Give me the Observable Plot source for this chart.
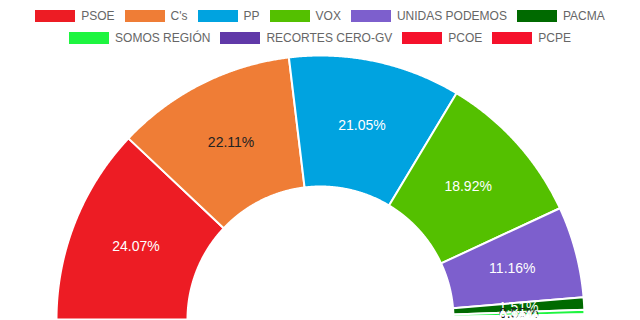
<!DOCTYPE html>
<html>
<head>
<meta charset="utf-8">
<script src="https://cdn.jsdelivr.net/npm/d3@7"></script>
<script src="https://cdn.jsdelivr.net/npm/@observablehq/plot@0.6"></script>
<style>
html, body { margin: 0; padding: 0; overflow: hidden; background: #fff; width: 640px; height: 320px; }
#legend { box-sizing: border-box; height: 50px; padding-top: 10px; font: 12px "Liberation Sans", Arial, sans-serif; color: #666; }
.row { display: flex; justify-content: center; height: 12px; margin-bottom: 10px; }
.item { display: flex; align-items: center; margin: 0 5px; white-space: nowrap; line-height: 12px; }
.sw { width: 40px; height: 12px; margin-right: 6px; flex: none; }
#chart svg { display: block; overflow: visible; }
</style>
</head>
<body>
<div id="legend"></div>
<div id="chart"></div>
<script>
// ---- data ----
const parties = ["PSOE", "C's", "PP", "VOX", "UNIDAS PODEMOS", "PACMA", "SOMOS REGIÓN", "RECORTES CERO-GV", "PCOE", "PCPE"];
const shares = [24.07, 22.11, 21.05, 18.92, 11.16, 1.51, 0.55, 0.25, 0.20, 0.18];
const palette = ["#ed1c24", "#ef7d36", "#00a3e0", "#54c000", "#7d5fcd", "#006a00", "#1ef540", "#6039a8", "#f5112b", "#f5112b"];
const darkLabelParties = ["C's", "SOMOS REGIÓN"];
const legendRows = [parties.slice(0, 6), parties.slice(6)];

// ---- legend ----
const legend = d3.select("#legend");
legendRows.forEach(row => {
  const r = legend.append("div").attr("class", "row");
  row.forEach(p => {
    const it = r.append("div").attr("class", "item");
    it.append("div").attr("class", "sw").style("background", palette[parties.indexOf(p)]);
    it.append("span").text(p);
  });
});

// ---- geometry (unit outer radius) ----
const innerFrac = 133 / 264;
const total = d3.sum(shares);
let cum = 0;
const slices = parties.map((p, i) => {
  const a0 = cum / total * Math.PI;
  cum += shares[i];
  const a1 = cum / total * Math.PI;
  return {party: p, share: shares[i], a0, a1, mid: (a0 + a1) / 2};
});
const pt = (a, r) => [-r * Math.cos(a), -r * Math.sin(a)];
function ring(s) {
  const n = Math.max(2, Math.ceil((s.a1 - s.a0) / (Math.PI / 720)));
  const angles = d3.range(n + 1).map(k => s.a0 + (s.a1 - s.a0) * k / n);
  const outer = angles.map(a => pt(a, 1));
  const inner = angles.slice().reverse().map(a => pt(a, innerFrac));
  return [...outer, ...inner, outer[0]];
}
const features = slices.map(s => ({type: "Feature", properties: s, geometry: {type: "Polygon", coordinates: [ring(s)]}}));
const labelR = (1 + innerFrac) / 2;
const lx = s => -labelR * Math.cos(s.mid);
const ly = s => -labelR * Math.sin(s.mid);
const fmt = s => s.share.toFixed(2) + "%";

// one label mark per slice, in data order (later labels drawn on top)
const labelMarks = slices.map(s => Plot.text([s], {
  x: lx, y: ly, text: fmt,
  fill: darkLabelParties.includes(s.party) ? "#222" : "white",
  fontSize: 14
}));

const chart = Plot.plot({
  width: 640,
  height: 289,
  marginLeft: 56,
  marginRight: 56,
  marginTop: 5,
  marginBottom: 20,
  projection: {type: "identity", domain: {type: "MultiPoint", coordinates: [[-1, -1], [1, 0]]}},
  color: {domain: parties, range: palette},
  style: {fontFamily: "'Liberation Sans', Arial, sans-serif", background: "transparent"},
  marks: [
    Plot.geo(features, {fill: d => d.properties.party, stroke: "white", strokeWidth: 2}),
    ...labelMarks
  ]
});
document.getElementById("chart").appendChild(chart);
</script>
</body>
</html>
